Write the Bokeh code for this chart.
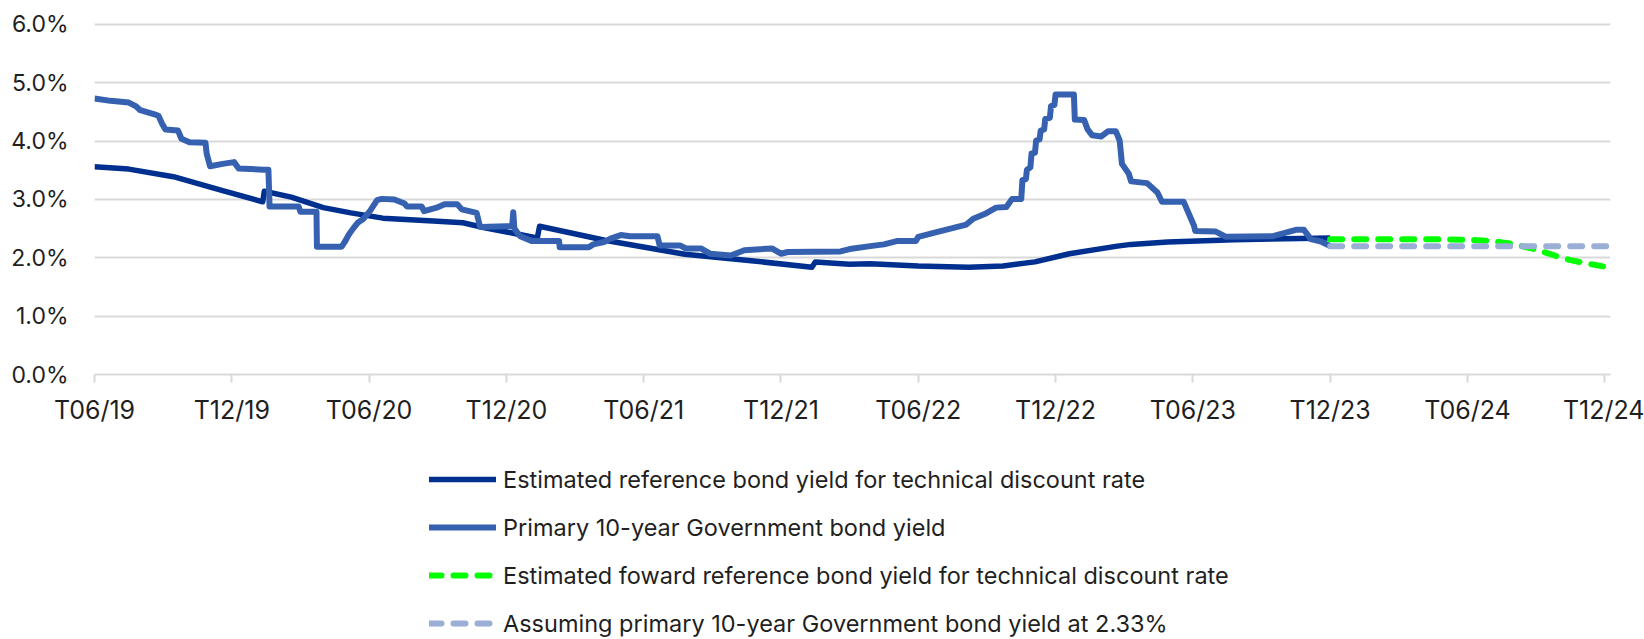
from bokeh.plotting import figure
from bokeh.layouts import column
from bokeh.models import Range1d, FixedTicker, Legend, LegendItem
from bokeh.embed import file_html
from bokeh.resources import INLINE

# ---- data (x = months since June 2019) ----
tick_months = [0, 6, 12, 18, 24, 30, 36, 42, 48, 54, 60, 66]
tick_labels = ["T06/19", "T12/19", "T06/20", "T12/20", "T06/21", "T12/21",
               "T06/22", "T12/22", "T06/23", "T12/23", "T06/24", "T12/24"]
y_ticks = [0, 1, 2, 3, 4, 5, 6]
y_labels = ["0.0%", "1.0%", "2.0%", "3.0%", "4.0%", "5.0%", "6.0%"]

ref_month = [0, 1.5, 3.45, 5.6, 7.35, 7.42, 8.6, 10.0, 11.2, 12.6, 14.8, 16.1, 17.0,
             18.3, 19.35, 19.45, 22.3, 25.8, 28.7, 31.35, 31.5, 33.0, 33.9, 36.0,
             38.2, 39.7, 41.1, 42.6, 44.7, 45.3, 46.9, 49.8, 54.0]
ref_yield = [3.56, 3.52, 3.39, 3.15, 2.96, 3.14, 3.04, 2.86, 2.77, 2.68, 2.63, 2.60, 2.52,
             2.42, 2.34, 2.54, 2.30, 2.06, 1.95, 1.84, 1.93, 1.89, 1.90, 1.86,
             1.84, 1.86, 1.93, 2.07, 2.20, 2.23, 2.27, 2.31, 2.34]

gov_month = [0.0, 0.7, 1.5, 1.8, 2.0, 2.7, 2.8, 2.95, 3.1, 3.65, 3.8, 4.15, 4.85, 4.9,
             5.05, 5.6, 6.1, 6.3, 7.39, 7.6, 7.65, 8.92, 9.0, 9.7, 9.72, 10.8, 10.95,
             11.1, 11.3, 11.5, 11.76, 12.05, 12.35, 12.55, 13.1, 13.55, 13.65, 14.3,
             14.4, 14.95, 15.3, 15.85, 16.05, 16.7, 16.85, 18.0, 18.25, 18.3, 18.35,
             18.6, 19.1, 20.3, 20.33, 21.6, 21.8, 22.26, 22.55, 23.0, 23.4, 24.6, 24.7,
             25.6, 25.85, 26.5, 26.9, 27.8, 28.4, 29.6, 30.0, 30.3, 32.6, 33.0, 33.9,
             34.5, 35.1, 35.9, 36.0, 36.8, 38.1, 38.4, 38.9, 39.4, 39.85, 40.1, 40.5,
             40.55, 40.7, 40.75, 40.9, 40.95, 41.1, 41.15, 41.3, 41.35, 41.5, 41.55,
             41.75, 41.8, 41.95, 42.0, 42.8, 42.84, 43.25, 43.4,
             43.6, 44.0, 44.3, 44.63, 44.8, 44.9, 45.2, 45.3, 46.0, 46.45, 46.65, 47.6,
             47.75, 48.05, 48.1, 49.0, 49.45, 51.5, 52.5, 52.85, 53.15, 53.6, 54.0]
gov_yield = [4.73, 4.69, 4.66, 4.60, 4.53, 4.45, 4.43, 4.30, 4.20, 4.18, 4.04, 3.98, 3.97, 3.79,
             3.57, 3.61, 3.64, 3.53, 3.51, 3.51, 2.88, 2.88, 2.79, 2.79, 2.19, 2.19, 2.28,
             2.39, 2.50, 2.60, 2.67, 2.81, 2.99, 3.01, 3.00, 2.93, 2.88, 2.88,
             2.80, 2.86, 2.92, 2.92, 2.83, 2.77, 2.53, 2.54, 2.54, 2.78, 2.50,
             2.37, 2.29, 2.29, 2.18, 2.18, 2.23, 2.27, 2.33, 2.39, 2.37, 2.37, 2.21,
             2.21, 2.16, 2.16, 2.07, 2.04, 2.13, 2.16, 2.07, 2.10, 2.11, 2.15, 2.20,
             2.23, 2.29, 2.29, 2.36, 2.44, 2.57, 2.67, 2.75, 2.86, 2.87, 3.01, 3.01,
             3.33, 3.35, 3.51, 3.55, 3.79, 3.80, 4.01, 4.03, 4.18, 4.20, 4.38,
             4.40, 4.60, 4.62, 4.80, 4.80, 4.37, 4.36, 4.20,
             4.10, 4.08, 4.17, 4.17, 4.01, 3.61, 3.44, 3.31, 3.28, 3.12, 2.96, 2.96,
             2.82, 2.55, 2.46, 2.45, 2.36, 2.37, 2.48, 2.48, 2.32, 2.28, 2.20]

fwd_month = [54.0, 58.0, 60.0, 61.0, 61.8, 62.5, 63.0, 63.8, 64.5, 65.0, 66.1]
fwd_yield = [2.32, 2.32, 2.31, 2.29, 2.25, 2.19, 2.14, 2.04, 1.96, 1.92, 1.84]

flat_month = [54.0, 66.2]
flat_yield = [2.20, 2.20]

series_names = ["Estimated reference bond yield for technical discount rate",
                "Primary 10-year Government bond yield",
                "Estimated foward reference bond yield for technical discount rate",
                "Assuming primary 10-year Government bond yield at 2.33%"]

FONT = "Inter"
TXT = "#1f1f1f"
GRID = "#D9D9D9"
C_REF = "#00308F"
C_GOV = "#3561B0"
C_FWD = "#00FF00"
C_FLAT = "#9AAED6"
W_REF = 5.5
W_GOV = 6
W_DASH = 6

W = 1644
H1 = 445
H2 = 194

p = figure(width=W, height=H1, x_range=Range1d(0, 66.25), y_range=Range1d(0, 6.05),
           output_backend="svg", toolbar_location=None,
           min_border_left=94, min_border_right=34, min_border_top=21, min_border_bottom=71)
p.outline_line_color = None
p.background_fill_color = "white"
p.border_fill_color = "white"

p.xgrid.visible = False
p.ygrid.ticker = FixedTicker(ticks=y_ticks)
p.ygrid.grid_line_color = GRID
p.ygrid.grid_line_width = 2

p.yaxis.ticker = FixedTicker(ticks=y_ticks)
p.yaxis.major_label_overrides = {t: l for t, l in zip(y_ticks, y_labels)}
p.yaxis.axis_line_color = None
p.yaxis.major_tick_line_color = None
p.yaxis.major_tick_out = 0
p.yaxis.major_tick_in = 0
p.yaxis.minor_tick_line_color = None
p.yaxis.minor_tick_out = 0
p.yaxis.major_label_standoff = 26
p.yaxis.major_label_text_font = FONT
p.yaxis.major_label_text_font_size = "23px"
p.yaxis.major_label_text_color = TXT

p.xaxis.ticker = FixedTicker(ticks=tick_months)
p.xaxis.major_label_overrides = {t: l for t, l in zip(tick_months, tick_labels)}
p.xaxis.axis_line_color = GRID
p.xaxis.axis_line_width = 2
p.xaxis.major_tick_line_color = GRID
p.xaxis.major_tick_line_width = 2
p.xaxis.major_tick_out = 8
p.xaxis.major_tick_in = 0
p.xaxis.minor_tick_line_color = None
p.xaxis.major_label_standoff = 12
p.xaxis.major_label_text_font = FONT
p.xaxis.major_label_text_font_size = "25px"
p.xaxis.major_label_text_color = TXT

p.line(ref_month, ref_yield, line_color=C_REF, line_width=W_REF, line_join="round")
p.line(gov_month, gov_yield, line_color=C_GOV, line_width=W_GOV, line_join="round")
p.line(fwd_month, fwd_yield, line_color=C_FWD, line_width=W_DASH,
       line_dash="12 12", line_cap="round", line_join="round")
p.line(flat_month, flat_yield, line_color=C_FLAT, line_width=W_DASH,
       line_dash="12 12", line_cap="round")

# ---- legend strip below the chart (its frame is aligned with the chart's frame) ----
q = figure(width=W, height=H2, x_range=Range1d(0, 1), y_range=Range1d(0, 1),
           output_backend="svg", toolbar_location=None,
           x_axis_type=None, y_axis_type=None,
           min_border_left=0, min_border_right=0, min_border_top=0, min_border_bottom=0)
q.outline_line_color = None
q.xgrid.visible = False
q.ygrid.visible = False
q.background_fill_color = "white"
q.border_fill_color = "white"

# legend-only renderers: their points lie outside the visible range
hid_x = [-5, -4]
hid_y = [-5, -5]
lr = q.line(hid_x, hid_y, line_color=C_REF, line_width=W_REF, line_cap="round")
lg = q.line(hid_x, hid_y, line_color=C_GOV, line_width=W_GOV, line_cap="round")
lf = q.line(hid_x, hid_y, line_color=C_FWD, line_width=W_DASH, line_dash="12 12", line_cap="round")
ll = q.line(hid_x, hid_y, line_color=C_FLAT, line_width=W_DASH, line_dash="12 12", line_cap="round")

legend = Legend(items=[LegendItem(label=series_names[0], renderers=[lr]),
                       LegendItem(label=series_names[1], renderers=[lg]),
                       LegendItem(label=series_names[2], renderers=[lf]),
                       LegendItem(label=series_names[3], renderers=[ll])],
                location=(335, 1), orientation="vertical",
                glyph_width=67, glyph_height=30, label_height=30, spacing=18,
                label_standoff=7, padding=0, margin=0,
                border_line_color=None, background_fill_alpha=0,
                label_text_font=FONT, label_text_font_size="23.5px", label_text_color=TXT)
q.add_layout(legend, "center")

layout = column(p, q, spacing=0)
open("out.html", "w").write(file_html(layout, INLINE))
